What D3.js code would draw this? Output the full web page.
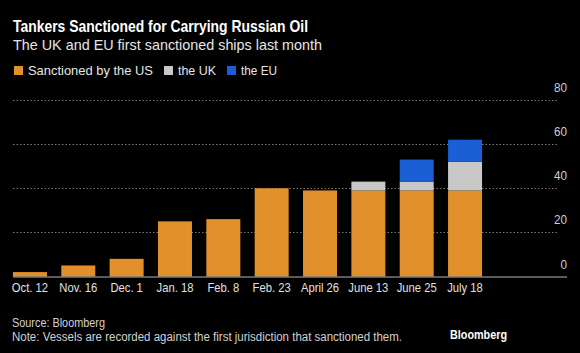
<!DOCTYPE html>
<html>
<head>
<meta charset="utf-8">
<script src="https://cdn.jsdelivr.net/npm/d3@7"></script>
<style>
  html, body { margin: 0; padding: 0; background: #000; }
  svg { display: block; }
  text { font-family: "Liberation Sans", "Noto Sans", sans-serif; }
</style>
</head>
<body>
<svg id="chart" width="580" height="353"></svg>
<script>
// data
const dates = ["Oct. 12", "Nov. 16", "Dec. 1", "Jan. 18", "Feb. 8", "Feb. 23", "April 26", "June 13", "June 25", "July 18"];
const usValues = [2, 5, 8, 25, 26, 40, 39, 39, 39, 39];
const ukValues = [0, 0, 0, 0, 0, 0, 0, 4, 4, 13];
const euValues = [0, 0, 0, 0, 0, 0, 0, 0, 10, 10];
const seriesNames = ["Sanctioned by the US", "the UK", "the EU"];
const yTicks = [0, 20, 40, 60, 80];

const colors = ["#e2902b", "#c8c8c8", "#1a5fd4"];

const svg = d3.select("#chart");
const W = 580, H = 353;
svg.append("rect").attr("width", W).attr("height", H).attr("fill", "#000");

// Bloomberg's face is narrower than anything installed: keep the size,
// squeeze the glyphs a bit so the text spans the same width
function squeeze(sel, ratio) {
  const w = sel.node().getComputedTextLength();
  sel.attr("textLength", w * ratio).attr("lengthAdjust", "spacingAndGlyphs");
  return sel;
}
function fitWidth(sel, target) {
  const w = sel.node().getComputedTextLength();
  return squeeze(sel, target / w);
}

// stacked table built from the arrays
const rows = dates.map((d, i) => ({ date: d, us: usValues[i], uk: ukValues[i], eu: euValues[i] }));
const stack = d3.stack().keys(["us", "uk", "eu"])(rows);

const x = d3.scaleBand()
  .domain(dates)
  .range([5.8, 489.2])
  .paddingInner(0.297)
  .paddingOuter(0.148);

const y = d3.scaleLinear().domain([0, 80]).range([276.5, 100]);

// gridlines
svg.append("g")
  .selectAll("line")
  .data(yTicks.filter(t => t > 0))
  .join("line")
  .attr("x1", 13).attr("x2", 557)
  .attr("y1", d => Math.round(y(d)) + 0.5).attr("y2", d => Math.round(y(d)) + 0.5)
  .attr("stroke", "#7a7a7a")
  .attr("stroke-width", 1)
  .attr("stroke-dasharray", "1.5,2");

// tick labels, sitting above their gridline
svg.append("g")
  .selectAll("text")
  .data(yTicks)
  .join("text")
  .attr("x", 567)
  .attr("y", d => y(d) - 8)
  .attr("text-anchor", "end")
  .attr("fill", "#cfcfcf")
  .attr("font-size", 13)
  .each(function (d) { d3.select(this).text(d); squeeze(d3.select(this), 0.9); });

// bars
svg.append("g")
  .selectAll("g")
  .data(stack)
  .join("g")
  .attr("fill", (d, i) => colors[i])
  .selectAll("rect")
  .data(d => d.filter(p => p[1] > p[0]))
  .join("rect")
  .attr("x", d => x(d.data.date))
  .attr("width", x.bandwidth())
  .attr("y", d => y(d[1]))
  .attr("height", d => y(d[0]) - y(d[1]));

// baseline
svg.append("line")
  .attr("x1", 13).attr("x2", 567)
  .attr("y1", 277).attr("y2", 277)
  .attr("stroke", "#b5b5b5")
  .attr("stroke-width", 1);

// x labels ("June 13" is ~40px wide in the reference)
const xLabels = svg.append("g")
  .selectAll("text")
  .data(dates)
  .join("text")
  .attr("x", d => x(d) + x.bandwidth() / 2)
  .attr("y", 292)
  .attr("text-anchor", "middle")
  .attr("fill", "#e0e0e0")
  .attr("font-size", 13)
  .text(d => d);
const xRatio = 40 / xLabels.filter(d => d === "June 13").node().getComputedTextLength();
xLabels.each(function () { squeeze(d3.select(this), xRatio); });

// title + subtitle
fitWidth(svg.append("text")
  .attr("x", 13).attr("y", 32)
  .attr("fill", "#fff")
  .attr("font-size", 16.5)
  .attr("font-weight", "bold")
  .text("Tankers Sanctioned for Carrying Russian Oil"), 295);

fitWidth(svg.append("text")
  .attr("x", 13).attr("y", 50)
  .attr("fill", "#e6e6e6")
  .attr("font-size", 14.5)
  .text("The UK and EU first sanctioned ships last month"), 309);

// legend
let lx = 14;
const legend = svg.append("g");
const legendSize = [125, 38, 36];
seriesNames.forEach((name, i) => {
  const g = legend.append("g").attr("transform", `translate(${lx},0)`);
  g.append("rect").attr("x", 0).attr("y", 66).attr("width", 9).attr("height", 9).attr("fill", colors[i]);
  const t = g.append("text")
    .attr("x", 14).attr("y", 75)
    .attr("fill", "#e6e6e6")
    .attr("font-size", 13.5)
    .text(name);
  fitWidth(t, legendSize[i]);
  lx += 14 + legendSize[i] + 11;
});

// footer
fitWidth(svg.append("text")
  .attr("x", 12).attr("y", 327)
  .attr("fill", "#d0d0d0")
  .attr("font-size", 12.5)
  .text("Source: Bloomberg"), 93);

fitWidth(svg.append("text")
  .attr("x", 12).attr("y", 341)
  .attr("fill", "#d0d0d0")
  .attr("font-size", 12.5)
  .text("Note: Vessels are recorded against the first jurisdiction that sanctioned them."), 390);

fitWidth(svg.append("text")
  .attr("x", 450).attr("y", 339)
  .attr("fill", "#fff")
  .attr("font-size", 12)
  .attr("font-weight", "bold")
  .text("Bloomberg"), 57);
</script>
</body>
</html>
